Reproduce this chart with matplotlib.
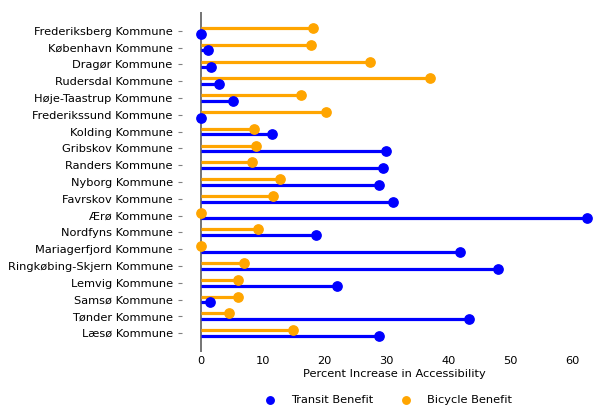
import matplotlib.pyplot as plt
import numpy as np

kommuner = ['Frederiksberg Kommune', 'København Kommune', 'Dragør Kommune',
            'Rudersdal Kommune', 'Høje-Taastrup Kommune', 'Frederikssund Kommune',
            'Kolding Kommune', 'Gribskov Kommune', 'Randers Kommune',
            'Nyborg Kommune', 'Favrskov Kommune', 'Ærø Kommune',
            'Nordfyns Kommune', 'Mariagerfjord Kommune', 'Ringkøbing-Skjern Kommune',
            'Lemvig Kommune', 'Samsø Kommune', 'Tønder Kommune', 'Læsø Kommune']

transit = [0.0, 1.2, 1.7, 2.9, 5.2, 0.0, 11.5, 29.8, 29.4, 28.7,
           31.0, 62.3, 18.6, 41.8, 47.9, 21.9, 1.5, 43.3, 28.8]
bicycle = [18.1, 17.7, 27.3, 36.9, 16.1, 20.2, 8.5, 8.9, 8.2, 12.7,
           11.6, 0.0, 9.2, 0.0, 7.0, 6.0, 6.0, 4.5, 14.9]

y = np.arange(len(kommuner))
off = 0.17
fs = 8.2

fig, ax = plt.subplots(figsize=(6.16, 4.08), dpi=100)

#linjer først, prikker ovenpå
ax.hlines(y + off, 0, transit, color='blue', lw=2.3)
ax.hlines(y - off, 0, bicycle, color='orange', lw=2.3)
ax.scatter(transit, y + off, color='blue', s=45, zorder=3, clip_on=False, label='Transit Benefit')
ax.scatter(bicycle, y - off, color='orange', s=45, zorder=3, clip_on=False, label='Bicycle Benefit')

ax.axvline(0, color='dimgray', lw=1.3, zorder=1)

ax.set_yticks(y)
ax.set_yticklabels(kommuner)
ax.set_xlim(-3.1, 65.4)
ax.set_ylim(len(kommuner) - 1 + 1.13, -1.13)
ax.set_xlabel('Percent Increase in Accessibility', fontsize=fs, labelpad=2)

for s in ax.spines.values():
    s.set_visible(False)
ax.tick_params(axis='x', length=0, labelsize=fs, pad=3)
ax.tick_params(axis='y', length=3, labelsize=fs, color='gray')

ax.legend(loc='upper center', bbox_to_anchor=(0.479, -0.095), ncol=2, frameon=False,
          fontsize=fs, markerscale=0.8, columnspacing=1.9, handletextpad=0.85)

plt.subplots_adjust(left=0.295, right=0.984, top=0.971, bottom=0.137)
plt.savefig('out.png')
